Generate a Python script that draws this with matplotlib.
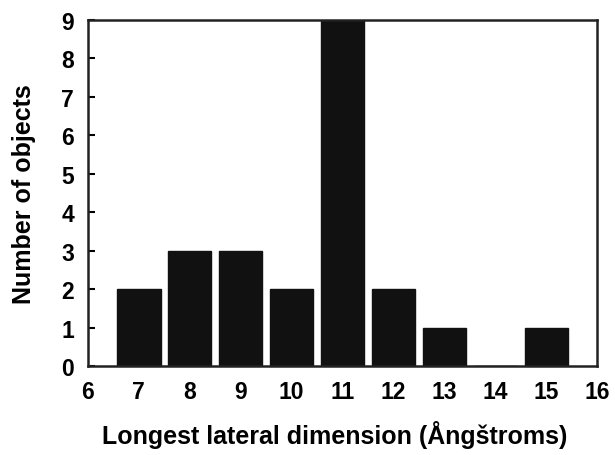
import matplotlib.pyplot as plt

# data
sizes = [7, 8, 9, 10, 11, 12, 13, 14, 15]
counts = [2, 3, 3, 2, 9, 2, 1, 0, 1]
x_ticks = list(range(6, 17))
y_ticks = list(range(0, 10))

plt.rcParams['font.family'] = ['Liberation Sans', 'DejaVu Sans']
plt.rcParams['font.weight'] = 'bold'

fig = plt.figure(figsize=(6.15, 4.56), dpi=100)
ax = fig.add_axes([0.143, 0.195, 0.828, 0.759])

ax.bar(sizes, counts, width=0.85, color='#111111', edgecolor='#111111')

ax.set_xlim(6, 16)
ax.set_ylim(0, 9)
ax.set_xticks(x_ticks)
ax.set_yticks(y_ticks)
ax.tick_params(axis='x', length=0, pad=10, labelsize=16.5)
ax.tick_params(axis='y', direction='in', length=5, width=1.5, pad=10, labelsize=16.5)
for s in ax.spines.values():
    s.set_linewidth(1.8)
    s.set_color('#222222')

ax.set_xlabel('Longest lateral dimension (Ångštroms)', fontsize=18, fontweight='bold')
ax.set_ylabel('Number of objects', fontsize=18, fontweight='bold', labelpad=18)
ax.xaxis.set_label_coords(0.484, -0.155)

fig.savefig('out.png', dpi=100)
